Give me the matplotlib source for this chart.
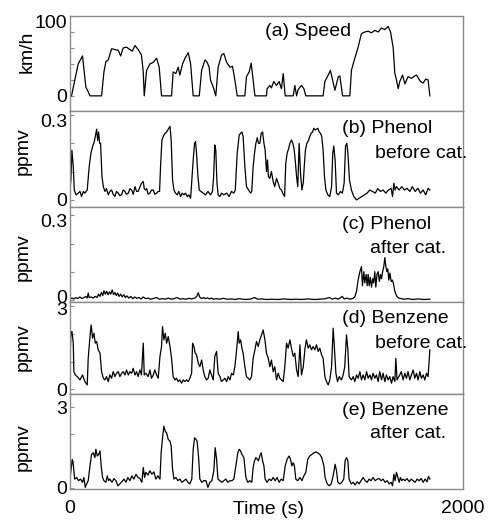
import matplotlib.pyplot as plt
import matplotlib.transforms as mtransforms

plt.rcParams['font.family'] = ['Liberation Sans', 'DejaVu Sans']
plt.rcParams['font.size'] = 14

# (a) vehicle speed, km/h
speed_t = [0, 8, 25, 42, 64, 81, 93, 102, 161, 173, 183, 195, 212, 229, 246, 258, 271, 288,
           305, 317, 331, 347, 364, 373, 378, 390, 407, 424, 441, 454, 466, 517, 525, 539,
           551, 559, 573, 585, 602, 614, 627, 658, 670, 687, 698, 708, 715, 729, 742, 754,
           771, 783, 797, 814, 827, 839, 851, 890, 898, 912, 922, 932, 941, 1000, 1003,
           1017, 1025, 1037, 1051, 1064, 1076, 1085, 1095, 1136, 1144, 1153, 1161, 1178,
           1190, 1200, 1288, 1297, 1314, 1325, 1336, 1348, 1365, 1373, 1387, 1424, 1432,
           1449, 1466, 1483, 1500, 1517, 1534, 1551, 1568, 1585, 1602, 1619, 1631, 1644,
           1653, 1661, 1670, 1678, 1692, 1704, 1720, 1737, 1754, 1763, 1783, 1797, 1810,
           1822, 1831]
speed = [0, 0, 20, 40, 50, 11, 5, 0, 0, 30, 43, 45, 59, 58, 57, 50, 60, 61,
         58, 56, 63, 58, 51, 30, 0, 32, 40, 42, 47, 36, 0, 0, 30, 28,
         36, 26, 40, 47, 54, 40, 0, 0, 32, 45, 42, 36, 20, 11, 0, 36,
         51, 53, 42, 36, 37, 20, 0, 0, 24, 30, 41, 20, 0, 0, 9,
         13, 10, 18, 13, 18, 9, 28, 0, 0, 13, 0, 8, 13,
         9, 0, 0, 18, 26, 32, 20, 7, 24, 25, 0, 0, 32,
         47, 61, 78, 80, 81, 79, 82, 80, 85, 83, 87, 80, 61,
         28, 20, 9, 18, 26, 15, 24, 22, 25, 26, 18, 16, 21,
         20, 0]

# (b) phenol before catalyst, ppmv
phenol_b_t = [0, 5, 10, 17, 22, 31, 42, 51, 59, 68, 76, 88, 98, 107, 115, 124, 132, 136,
              141, 146, 151, 156, 163, 170, 178, 186, 195, 203, 212, 220, 229, 237, 246,
              254, 263, 271, 280, 288, 297, 305, 314, 322, 331, 339, 347, 356, 364, 373,
              378, 385, 390, 398, 407, 415, 424, 432, 441, 449, 456, 461, 468, 475, 483,
              492, 500, 509, 515, 522, 529, 537, 546, 554, 563, 571, 580, 588, 597, 605,
              614, 620, 627, 634, 639, 644, 651, 658, 666, 678, 690, 702, 715, 725, 731,
              737, 742, 748, 754, 763, 771, 783, 797, 810, 822, 834, 841, 851, 861, 868,
              875, 881, 890, 898, 909, 919, 925, 932, 939, 946, 953, 959, 966, 973, 980,
              987, 993, 1000, 1005, 1010, 1017, 1025, 1034, 1042, 1051, 1059, 1068, 1076,
              1085, 1092, 1098, 1105, 1112, 1119, 1127, 1134, 1141, 1146, 1153, 1159, 1166,
              1173, 1180, 1187, 1192, 1198, 1205, 1214, 1220, 1227, 1234, 1241, 1248, 1254,
              1261, 1268, 1275, 1281, 1288, 1295, 1302, 1312, 1322, 1331, 1337, 1342, 1349,
              1356, 1366, 1376, 1386, 1395, 1402, 1409, 1414, 1422, 1432, 1444, 1458, 1471,
              1485, 1498, 1512, 1525, 1539, 1553, 1566, 1580, 1593, 1607, 1620, 1634, 1641,
              1648, 1654, 1661, 1675, 1688, 1702, 1715, 1729, 1742, 1756, 1770, 1783, 1797,
              1810, 1822, 1831]
phenol_b = [0.035, 0.07, 0.176, 0.118, 0.035, 0.018, 0.024, 0.03, 0.012, 0.03, 0.024, 0.035,
            0.118, 0.165, 0.188, 0.206, 0.235, 0.25, 0.21, 0.24, 0.2, 0.2, 0.082, 0.047,
            0.03, 0.04, 0.018, 0.03, 0.035, 0.02, 0.012, 0.03, 0.024, 0.015, 0.018, 0.035,
            0.03, 0.02, 0.024, 0.04, 0.035, 0.02, 0.047, 0.03, 0.03, 0.045, 0.059, 0.065,
            0.04, 0.035, 0.04, 0.02, 0.024, 0.035, 0.035, 0.02, 0.024, 0.03, 0.03, 0.118,
            0.212, 0.224, 0.235, 0.24, 0.25, 0.26, 0.212, 0.071, 0.035, 0.024, 0.018,
            0.03, 0.012, 0.024, 0.018, 0.024, 0.012, 0.018, 0.006, 0.07, 0.141, 0.2,
            0.206, 0.165, 0.085, 0.035, 0.03, 0.024, 0.018, 0.03, 0.018, 0.03, 0.082,
            0.194, 0.176, 0.06, 0.018, 0.012, 0.024, 0.018, 0.024, 0.012, 0.03, 0.024,
            0.035, 0.165, 0.229, 0.235, 0.24, 0.224, 0.118, 0.047, 0.035, 0.024, 0.03,
            0.118, 0.165, 0.2, 0.22, 0.2, 0.2, 0.235, 0.24, 0.2, 0.176, 0.1, 0.141, 0.082,
            0.076, 0.1, 0.065, 0.047, 0.076, 0.06, 0.04, 0.035, 0.02, 0.012, 0.129, 0.165,
            0.18, 0.2, 0.212, 0.2, 0.176, 0.141, 0.082, 0.047, 0.2, 0.094, 0.035, 0.06,
            0.118, 0.176, 0.2, 0.21, 0.224, 0.235, 0.24, 0.253, 0.247, 0.25, 0.253, 0.24,
            0.235, 0.224, 0.176, 0.082, 0.035, 0.018, 0.012, 0.047, 0.165, 0.19, 0.141,
            0.024, 0.018, 0.03, 0.024, 0.06, 0.19, 0.2, 0.165, 0.071, 0.035, 0.012, 0.0,
            0.006, 0.012, 0.018, 0.024, 0.035, 0.03, 0.024, 0.04, 0.03, 0.035, 0.024,
            0.035, 0.041, 0.012, 0.059, 0.035, 0.047, 0.035, 0.047, 0.035, 0.041, 0.03,
            0.047, 0.03, 0.041, 0.024, 0.035, 0.018, 0.041, 0.035]

# (c) phenol after catalyst, ppmv
phenol_a_t = [0, 10, 20, 30, 40, 50, 60, 70, 80, 88, 93, 98, 108, 118, 128, 138, 146, 153,
              160, 167, 173, 180, 187, 194, 201, 208, 215, 222, 229, 236, 243, 250, 258,
              266, 274, 282, 290, 300, 310, 320, 330, 339, 350, 362, 373, 385, 398, 410,
              425, 441, 455, 470, 485, 500, 515, 530, 545, 560, 575, 590, 605, 620, 635,
              645, 653, 660, 670, 680, 690, 700, 710, 720, 730, 745, 760, 780, 800, 820,
              840, 860, 880, 900, 920, 940, 955, 975, 1000, 1030, 1060, 1090, 1120, 1150,
              1180, 1210, 1240, 1270, 1300, 1320, 1335, 1350, 1365, 1385, 1395, 1410, 1425,
              1440, 1449, 1458, 1466, 1475, 1483, 1488, 1495, 1500, 1507, 1512, 1517, 1522,
              1528, 1534, 1540, 1545, 1551, 1556, 1562, 1568, 1574, 1580, 1585, 1591, 1597,
              1602, 1607, 1612, 1617, 1622, 1628, 1634, 1640, 1645, 1653, 1663, 1672, 1685,
              1700, 1720, 1745, 1770, 1800, 1831]
phenol_a = [0.003, 0.006, 0.003, 0.008, 0.004, 0.01, 0.005, 0.007, 0.012, 0.006, 0.024,
            0.008, 0.01, 0.006, 0.012, 0.008, 0.02, 0.012, 0.026, 0.015, 0.032, 0.02,
            0.03, 0.018, 0.028, 0.02, 0.035, 0.018, 0.026, 0.015, 0.024, 0.012, 0.02,
            0.01, 0.018, 0.008, 0.014, 0.006, 0.012, 0.004, 0.01, 0.005, 0.008, 0.003,
            0.01, 0.004, 0.006, 0.002, 0.005, 0.008, 0.002, 0.004, 0.002, 0.006, 0.002,
            0.004, 0.008, 0.002, 0.004, 0.002, 0.005, 0.003, 0.006, 0.012, 0.025, 0.01,
            0.004, 0.008, 0.004, 0.007, 0.003, 0.006, 0.002, 0.004, 0.002, 0.005, 0.002,
            0.003, 0.001, 0.004, 0.002, 0.001, 0.003, 0.008, 0.002, 0.003, 0.001, 0.002,
            0.001, 0.003, 0.001, 0.002, 0.001, 0.003, 0.001, 0.002, 0.004, 0.008, 0.002,
            0.006, 0.002, 0.012, 0.003, 0.006, 0.002, 0.005, 0.01, 0.03, 0.07, 0.1,
            0.118, 0.05, 0.1, 0.06, 0.09, 0.05, 0.09, 0.05, 0.08, 0.045, 0.075, 0.06,
            0.1, 0.045, 0.09, 0.1, 0.065, 0.09, 0.075, 0.1, 0.12, 0.15, 0.12, 0.1, 0.11,
            0.07, 0.095, 0.065, 0.07, 0.06, 0.03, 0.012, 0.006, 0.004, 0.002, 0.004,
            0.001, 0.003, 0.001, 0.002]

# (d) benzene before catalyst, ppmv
benz_b_t = [0, 5, 10, 17, 20, 27, 37, 51, 64, 76, 88, 93, 102, 108, 115, 122, 129, 136, 144,
            153, 161, 170, 178, 186, 195, 203, 212, 220, 229, 237, 246, 254, 263, 271, 280,
            288, 297, 305, 314, 322, 331, 339, 347, 356, 364, 373, 378, 386, 398, 407, 415,
            424, 432, 441, 449, 458, 466, 471, 478, 485, 492, 500, 509, 517, 525, 534, 542,
            551, 559, 568, 576, 585, 593, 602, 610, 619, 624, 631, 637, 644, 653, 661, 670,
            678, 686, 695, 703, 712, 720, 729, 737, 746, 754, 763, 771, 780, 788, 797, 805,
            814, 822, 831, 839, 848, 856, 861, 868, 875, 881, 890, 898, 907, 915, 924, 932,
            941, 949, 958, 966, 975, 983, 992, 1000, 1009, 1017, 1025, 1034, 1042, 1051,
            1059, 1068, 1076, 1085, 1093, 1102, 1110, 1119, 1127, 1136, 1144, 1153, 1161,
            1170, 1178, 1187, 1195, 1203, 1212, 1220, 1229, 1237, 1246, 1254, 1263, 1271,
            1280, 1288, 1297, 1305, 1314, 1322, 1331, 1339, 1344, 1353, 1361, 1370, 1381,
            1390, 1398, 1407, 1414, 1420, 1432, 1441, 1449, 1458, 1466, 1475, 1483, 1492,
            1500, 1509, 1517, 1526, 1534, 1542, 1551, 1559, 1568, 1576, 1585, 1593, 1602,
            1610, 1619, 1627, 1636, 1644, 1653, 1658, 1664, 1678, 1686, 1695, 1704, 1712,
            1720, 1729, 1737, 1746, 1754, 1763, 1771, 1780, 1788, 1797, 1805, 1814, 1822,
            1831]
benz_b = [0.94, 2.03, 2.09, 1.67, 0.64, 0.52, 0.46, 0.34, 0.52, 0.28, 0.16, 1.12, 1.91, 2.33,
          1.85, 2.03, 1.67, 1.73, 1.43, 1.31, 0.64, 0.40, 0.34, 0.46, 0.28, 0.52, 0.40, 0.64,
          0.46, 0.58, 0.64, 0.46, 0.58, 0.64, 0.52, 0.70, 0.52, 0.64, 0.58, 0.76, 0.52, 0.64,
          0.46, 0.70, 0.52, 1.67, 0.52, 0.58, 0.46, 0.70, 0.40, 0.52, 0.70, 0.52, 0.40, 1.19,
          1.55, 2.27, 1.79, 2.03, 1.67, 1.91, 1.55, 1.12, 0.46, 0.34, 0.40, 0.28, 0.34, 0.22,
          0.34, 0.28, 0.34, 0.28, 0.40, 0.58, 1.67, 1.55, 1.31, 1.25, 0.94, 0.82, 1.06, 0.70,
          0.46, 0.34, 0.40, 0.70, 0.52, 0.34, 1.19, 1.37, 0.58, 0.46, 0.28, 0.34, 0.40, 0.28,
          0.46, 0.34, 0.58, 0.52, 0.82, 1.43, 2.09, 1.67, 1.79, 1.49, 1.31, 0.82, 0.46, 0.40,
          0.34, 0.46, 1.12, 1.43, 1.73, 1.55, 1.79, 1.97, 2.15, 1.79, 1.31, 1.12, 0.82, 1.06,
          0.64, 0.82, 0.34, 0.58, 0.40, 0.34, 0.28, 0.82, 1.67, 1.49, 1.79, 1.49, 1.19, 1.31,
          0.70, 0.46, 1.61, 0.52, 0.82, 1.43, 1.79, 1.49, 1.61, 1.43, 1.55, 1.43, 1.61, 1.37,
          1.49, 1.25, 1.12, 0.46, 0.28, 0.16, 0.34, 0.82, 2.21, 1.67, 0.58, 0.28, 0.46, 0.34,
          0.52, 0.82, 1.97, 1.43, 0.46, 0.34, 0.46, 0.28, 0.52, 0.40, 0.64, 0.34, 0.52, 0.34,
          0.64, 0.40, 0.52, 0.34, 0.58, 0.40, 0.52, 0.28, 0.64, 0.34, 0.58, 0.28, 0.52, 0.34,
          0.46, 0.22, 0.46, 0.28, 1.12, 0.34, 0.52, 0.64, 0.34, 0.58, 0.40, 0.64, 0.34, 0.52,
          0.70, 0.40, 0.58, 0.34, 0.64, 0.40, 0.52, 0.34, 0.58, 0.46, 1.43]

# (e) benzene after catalyst, ppmv
benz_a_t = [0, 5, 12, 17, 24, 34, 44, 54, 64, 71, 78, 85, 93, 102, 110, 119, 127, 132, 139,
            146, 153, 159, 166, 173, 183, 190, 197, 203, 214, 224, 234, 244, 254, 264, 275,
            285, 295, 305, 315, 325, 336, 346, 356, 366, 373, 380, 386, 397, 407, 417, 427,
            437, 447, 458, 464, 471, 478, 485, 492, 500, 509, 515, 522, 529, 539, 549, 559,
            570, 580, 590, 600, 610, 620, 627, 634, 641, 647, 654, 661, 671, 681, 692, 702,
            712, 722, 732, 739, 746, 753, 763, 773, 783, 793, 803, 814, 824, 834, 844, 854,
            861, 868, 875, 885, 895, 905, 915, 925, 932, 939, 946, 953, 959, 966, 973, 980,
            987, 993, 1003, 1014, 1024, 1034, 1044, 1054, 1064, 1075, 1085, 1095, 1105, 1115,
            1122, 1129, 1136, 1142, 1149, 1159, 1170, 1180, 1190, 1200, 1210, 1220, 1231,
            1241, 1251, 1261, 1271, 1281, 1292, 1298, 1309, 1319, 1329, 1339, 1349, 1356,
            1363, 1373, 1383, 1393, 1400, 1407, 1414, 1420, 1431, 1441, 1451, 1461, 1471,
            1481, 1492, 1502, 1512, 1522, 1532, 1542, 1553, 1563, 1573, 1583, 1593, 1603,
            1614, 1624, 1634, 1641, 1648, 1654, 1661, 1668, 1675, 1681, 1688, 1695, 1705,
            1715, 1726, 1736, 1746, 1756, 1766, 1776, 1787, 1797, 1807, 1817, 1824, 1831]
benz_a = [0.32, 0.63, 1.06, 0.87, 0.32, 0.38, 0.26, 0.32, 0.20, 0.38, 0.01, 0.14, 0.26, 0.81,
          1.24, 1.30, 1.12, 1.43, 1.18, 1.24, 1.37, 0.81, 0.38, 0.26, 0.20, 0.44, 0.26, 0.32,
          0.20, 0.34, 0.26, 0.07, 0.14, 0.22, 0.32, 0.20, 0.38, 0.26, 0.44, 0.32, 0.50, 0.38,
          0.34, 0.20, 0.75, 0.38, 0.57, 0.47, 0.63, 0.50, 0.59, 0.32, 0.44, 0.32, 1.30, 1.86,
          2.29, 2.10, 2.04, 1.80, 1.73, 1.55, 0.69, 0.32, 0.38, 0.26, 0.32, 0.20, 0.26, 0.32,
          0.20, 0.14, 0.32, 1.43, 1.86, 1.80, 1.73, 1.18, 0.32, 0.20, 0.26, 0.26, 0.01, 0.20,
          0.26, 0.63, 1.49, 1.06, 0.32, 0.26, 0.20, 0.26, 0.32, 0.20, 0.26, 0.26, 0.32, 0.81,
          1.30, 1.43, 1.37, 1.24, 1.12, 0.38, 0.20, 0.26, 0.20, 0.75, 1.00, 1.12, 1.06, 1.00,
          1.18, 1.30, 1.00, 0.81, 0.32, 0.20, 0.32, 0.26, 0.38, 0.26, 0.38, 0.20, 0.32, 0.26,
          0.81, 1.06, 1.18, 1.06, 0.81, 0.93, 0.81, 0.32, 0.26, 0.38, 0.26, 0.44, 0.57, 1.06,
          1.18, 1.24, 1.30, 1.33, 1.30, 1.24, 1.12, 0.81, 0.38, 0.14, 0.07, 0.14, 0.44, 0.87,
          0.63, 0.20, 0.14, 0.20, 0.32, 1.00, 1.12, 1.00, 0.32, 0.14, 0.20, 0.10, 0.22, 0.14,
          0.26, 0.38, 0.26, 0.20, 0.32, 0.26, 0.38, 0.26, 0.32, 0.34, 0.26, 0.32, 0.20, 0.26,
          0.14, 0.20, 0.07, 0.50, 0.26, 0.57, 0.38, 0.20, 0.38, 0.26, 0.32, 0.26, 0.34, 0.22,
          0.32, 0.26, 0.20, 0.32, 0.26, 0.34, 0.20, 0.32, 0.22, 0.42, 0.32]

ylabels = ['km/h', 'ppmv', 'ppmv', 'ppmv', 'ppmv']
ylims = [(-19, 100), (-0.025, 0.314), (-0.008, 0.33), (-0.17, 3.16), (-0.05, 3.49)]
yticks = [[0, 20, 40, 60, 80, 100], [0, 0.1, 0.2, 0.3], [0, 0.1, 0.2, 0.3], [0, 1, 2, 3], [0, 1, 2, 3]]
ytick_labels = [['0', '', '', '', '', '100'], ['0', '', '', '0.3'], ['0', '', '', '0.3'],
                ['0', '', '', '3'], ['0', '', '', '3']]
titles = [['(a) Speed'], ['(b) Phenol', 'before cat.'], ['(c) Phenol', 'after cat.'],
          ['(d) Benzene', 'before cat.'], ['(e) Benzene', 'after cat.']]

series = [(speed_t, speed), (phenol_b_t, phenol_b), (phenol_a_t, phenol_a),
          (benz_b_t, benz_b), (benz_a_t, benz_a)]

# axes boxes [left, bottom, width, height] in figure fraction
boxes = [[0.143, 0.7865, 0.804, 0.1827],
         [0.143, 0.6019, 0.804, 0.1846],
         [0.143, 0.4192, 0.804, 0.1827],
         [0.143, 0.2423, 0.804, 0.1769],
         [0.143, 0.0596, 0.804, 0.1827]]
title_pos = [[(0.496, 0.79)],
             [(0.692, 0.77), (0.776, 0.51)],
             [(0.692, 0.77), (0.763, 0.52)],
             [(0.692, 0.77), (0.776, 0.50)],
             [(0.692, 0.78), (0.763, 0.54)]]
label_pos = [(-0.087, 0.62), (-0.097, 0.58), (-0.097, 0.47), (-0.097, 0.51), (-0.097, 0.44)]

fig = plt.figure(figsize=(4.89, 5.2), dpi=100)
frame = '#8a8a8a'

for i in range(5):
    ax = fig.add_axes(boxes[i])
    t, v = series[i]
    ax.plot(t, v, color='black', lw=0.9)
    ax.set_xlim(0, 2000)
    ax.set_ylim(*ylims[i])
    ax.set_yticks(yticks[i])
    ax.set_yticklabels(ytick_labels[i])
    ax.tick_params(axis='y', direction='in', length=3, width=0.8, color=frame, pad=2)
    for sp in ax.spines.values():
        sp.set_color(frame)
        sp.set_linewidth(1.0)
    ax.set_ylabel(ylabels[i])
    ax.yaxis.set_label_coords(*label_pos[i])
    labs = ax.get_yticklabels()
    if i < 3:
        # top tick label sits a little below its tick in the original
        off = mtransforms.ScaledTranslation(0, -4 / 72, fig.dpi_scale_trans)
        labs[-1].set_transform(labs[-1].get_transform() + off)
    if i == 2:
        up = mtransforms.ScaledTranslation(0, 2.5 / 72, fig.dpi_scale_trans)
        labs[0].set_transform(labs[0].get_transform() + up)
    if i == 3:
        down = mtransforms.ScaledTranslation(0, -1.5 / 72, fig.dpi_scale_trans)
        labs[-1].set_transform(labs[-1].get_transform() + down)
    for txt, (x, y) in zip(titles[i], title_pos[i]):
        ax.text(x, y, txt, transform=ax.transAxes, ha='left', va='baseline', clip_on=False)
    if i < 4:
        ax.set_xticks([])
    else:
        ax.set_xticks([0, 2000])
        ax.set_xticklabels(['0', '2000'])
        ax.tick_params(axis='x', length=0, pad=8)
        ax.set_xlabel('Time (s)')
        ax.xaxis.set_label_coords(0.504, -0.126)

fig.savefig('out.png', dpi=100)
